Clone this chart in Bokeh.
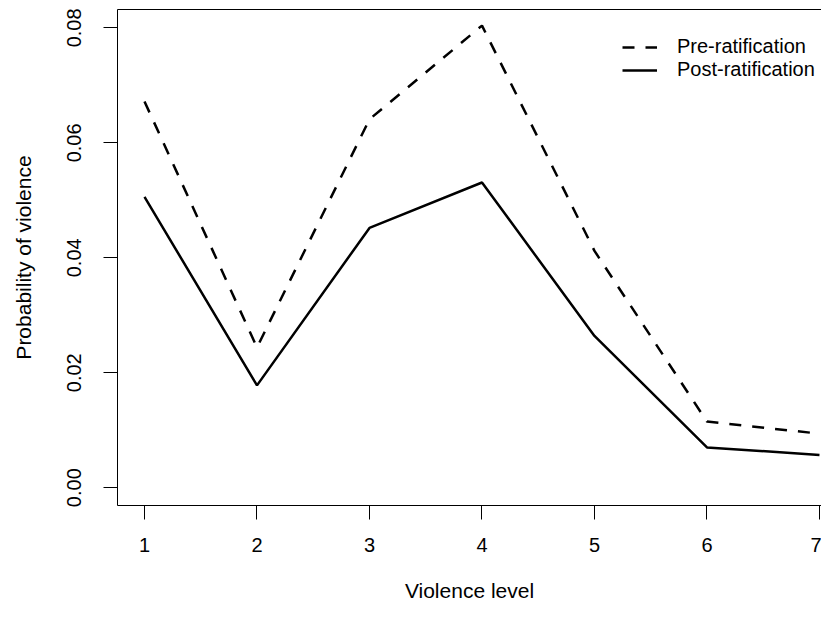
from bokeh.plotting import figure
from bokeh.models import FixedTicker, LinearAxis, Legend, LegendItem, Range1d
from bokeh.embed import file_html
from bokeh.resources import INLINE

levels = [1, 2, 3, 4, 5, 6, 7]
pre = [0.0672, 0.0244, 0.0641, 0.0804, 0.0412, 0.0115, 0.0094]
post = [0.0506, 0.0178, 0.0452, 0.0531, 0.0264, 0.0070, 0.0057]
x_ticks = [1, 2, 3, 4, 5, 6, 7]
y_ticks = [0.00, 0.02, 0.04, 0.06, 0.08]
y_tick_labels = ["0.00", "0.02", "0.04", "0.06", "0.08"]
series_names = ["Pre-ratification", "Post-ratification"]

FONT = "Liberation Sans"

p = figure(width=821, height=604, output_backend="svg", toolbar_location=None,
           x_range=Range1d(0.76, 7.018), y_range=Range1d(-0.0031, 0.0832),
           min_border_left=117, min_border_right=0, min_border_top=9, min_border_bottom=95,
           x_axis_label="Violence level", y_axis_label="Probability of violence")
p.outline_line_color = None
p.xgrid.visible = False
p.ygrid.visible = False
p.background_fill_color = "white"
p.border_fill_color = "white"

for ax in (p.xaxis[0], p.yaxis[0]):
    ax.axis_line_color = "black"
    ax.axis_line_width = 1
    ax.major_tick_line_color = "black"
    ax.major_tick_line_width = 1
    ax.major_tick_in = 0
    ax.major_tick_out = 14
    ax.minor_tick_line_color = None
    ax.major_label_text_font = FONT
    ax.major_label_text_font_size = "20px"
    ax.major_label_text_color = "black"
    ax.axis_label_text_font = FONT
    ax.axis_label_text_font_size = "21px"
    ax.axis_label_text_font_style = "normal"
    ax.axis_label_text_color = "black"

p.xaxis[0].ticker = FixedTicker(ticks=x_ticks)
p.xaxis[0].major_label_standoff = 18
p.xaxis[0].axis_label_standoff = 24
p.yaxis[0].ticker = FixedTicker(ticks=y_ticks)
p.yaxis[0].major_label_overrides = {t: l for t, l in zip(y_ticks, y_tick_labels)}
p.yaxis[0].major_label_orientation = "parallel"
p.yaxis[0].major_label_standoff = 22
p.yaxis[0].axis_label_standoff = 30

top = LinearAxis(ticker=FixedTicker(ticks=[]), axis_line_color="black", axis_line_width=1,
                 major_tick_line_color=None, minor_tick_line_color=None,
                 major_label_text_font_size="0px")
p.add_layout(top, "above")

r_pre = p.line(levels, pre, line_color="black", line_width=2.5, line_dash="12 11")
r_post = p.line(levels, post, line_color="black", line_width=2.5)

legend = Legend(items=[LegendItem(label=series_names[0], renderers=[r_pre]),
                       LegendItem(label=series_names[1], renderers=[r_post])],
                location=(505, 424), orientation="vertical",
                border_line_color=None, background_fill_alpha=0,
                padding=0, spacing=0, margin=0,
                glyph_width=35, glyph_height=22, label_height=22, label_standoff=20,
                label_text_font=FONT, label_text_font_size="20px", label_text_color="black")
p.add_layout(legend, "center")

open("out.html", "w").write(file_html(p, INLINE))
